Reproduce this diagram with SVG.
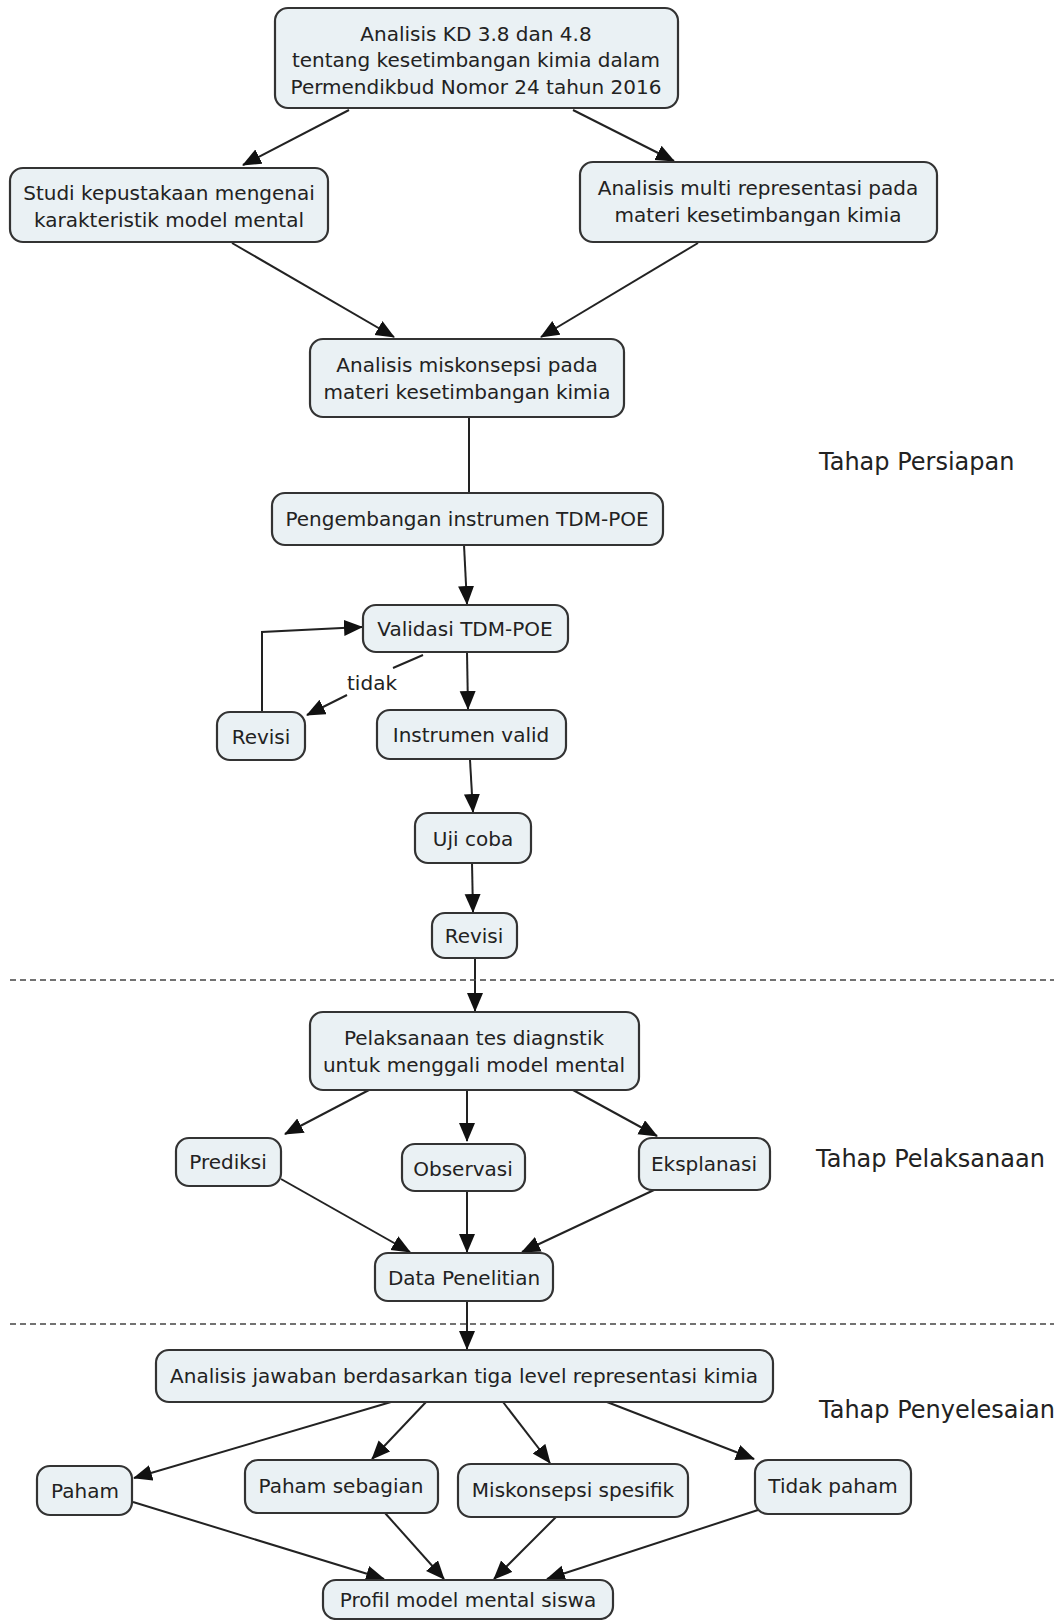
<svg xmlns="http://www.w3.org/2000/svg" width="1057" height="1620" viewBox="0 0 1057 1620">
<style>
.n rect{fill:#eaf1f4;stroke:#333;stroke-width:2.2}
text{font-family:"DejaVu Sans",Verdana,sans-serif;font-size:20px;fill:#222;text-anchor:middle}
.lab{font-size:24px;text-anchor:start}
.c line,.c polyline{stroke:#222;stroke-width:2;fill:none}
.a{marker-end:url(#ah)}
.d{stroke:#444;stroke-width:1.5;stroke-dasharray:6 4}
</style>
<defs>
<marker id="ah" markerUnits="userSpaceOnUse" markerWidth="20" markerHeight="18" refX="18" refY="8" orient="auto">
<path d="M0,0 L19,8 L0,16 z" fill="#111"/>
</marker>
</defs>
<rect width="1057" height="1620" fill="#fff"/>
<g class="c">
<line class="a" x1="349" y1="110" x2="243" y2="165"/>
<line class="a" x1="573" y1="110" x2="674" y2="161"/>
<line class="a" x1="232" y1="243" x2="394" y2="337"/>
<line class="a" x1="698" y1="243" x2="541" y2="337"/>
<line x1="469" y1="417" x2="469" y2="493"/>
<line class="a" x1="464" y1="545" x2="467" y2="604"/>
<polyline class="a" points="262,712 262,632 362,627"/>
<line x1="423" y1="655" x2="393" y2="668"/>
<line class="a" x1="347" y1="695" x2="307" y2="715"/>
<line class="a" x1="467" y1="652" x2="468" y2="709"/>
<line class="a" x1="470" y1="760" x2="473" y2="812"/>
<line class="a" x1="472" y1="863" x2="473" y2="912"/>
<line class="a" x1="475" y1="958" x2="475" y2="1011"/>
<line class="a" x1="369" y1="1090" x2="285" y2="1134"/>
<line class="a" x1="467" y1="1090" x2="467" y2="1141"/>
<line class="a" x1="573" y1="1090" x2="657" y2="1136"/>
<line class="a" x1="281" y1="1179" x2="410" y2="1252"/>
<line class="a" x1="467" y1="1191" x2="467" y2="1252"/>
<line class="a" x1="654" y1="1190" x2="522" y2="1252"/>
<line class="a" x1="467" y1="1301" x2="467" y2="1349"/>
<line class="a" x1="391" y1="1402" x2="134" y2="1478"/>
<line class="a" x1="426" y1="1402" x2="372" y2="1459"/>
<line class="a" x1="503" y1="1402" x2="550" y2="1463"/>
<line class="a" x1="607" y1="1402" x2="754" y2="1459"/>
<line class="a" x1="133" y1="1502" x2="384" y2="1579"/>
<line class="a" x1="385" y1="1513" x2="444" y2="1579"/>
<line class="a" x1="556" y1="1517" x2="494" y2="1579"/>
<line class="a" x1="758" y1="1510" x2="547" y2="1579"/>
</g>
<line class="d" x1="10" y1="980" x2="1054" y2="980"/>
<line class="d" x1="10" y1="1324" x2="1054" y2="1324"/>
<text x="372" y="690">tidak</text>
<g id="n1" class="n"><rect x="275" y="8" width="403" height="100" rx="13"/>
<text x="476" y="41">Analisis KD 3.8 dan 4.8</text>
<text x="476" y="67">tentang kesetimbangan kimia dalam</text>
<text x="476" y="94">Permendikbud Nomor 24 tahun 2016</text></g>
<g id="n2" class="n"><rect x="10" y="168" width="318" height="74" rx="13"/>
<text x="169" y="200">Studi kepustakaan mengenai</text>
<text x="169" y="227">karakteristik model mental</text></g>
<g id="n3" class="n"><rect x="580" y="162" width="357" height="80" rx="13"/>
<text x="758" y="195">Analisis multi representasi pada</text>
<text x="758" y="222">materi kesetimbangan kimia</text></g>
<g id="n4" class="n"><rect x="310" y="339" width="314" height="78" rx="13"/>
<text x="467" y="372">Analisis miskonsepsi pada</text>
<text x="467" y="399">materi kesetimbangan kimia</text></g>
<g id="n5" class="n"><rect x="272" y="493" width="391" height="52" rx="13"/>
<text x="467" y="526">Pengembangan instrumen TDM-POE</text></g>
<g id="n6" class="n"><rect x="363" y="605" width="205" height="47" rx="13"/>
<text x="465" y="636">Validasi TDM-POE</text></g>
<g id="n7" class="n"><rect x="217" y="712" width="88" height="48" rx="13"/>
<text x="261" y="744">Revisi</text></g>
<g id="n8" class="n"><rect x="377" y="710" width="189" height="49" rx="13"/>
<text x="471" y="742">Instrumen valid</text></g>
<g id="n9" class="n"><rect x="415" y="813" width="116" height="50" rx="13"/>
<text x="473" y="846">Uji coba</text></g>
<g id="n10" class="n"><rect x="432" y="913" width="85" height="45" rx="13"/>
<text x="474" y="943">Revisi</text></g>
<g id="n11" class="n"><rect x="310" y="1012" width="329" height="78" rx="13"/>
<text x="474" y="1045">Pelaksanaan tes diagnstik</text>
<text x="474" y="1072">untuk menggali model mental</text></g>
<g id="n12" class="n"><rect x="176" y="1138" width="105" height="48" rx="13"/>
<text x="228" y="1169">Prediksi</text></g>
<g id="n13" class="n"><rect x="402" y="1144" width="123" height="47" rx="13"/>
<text x="463" y="1176">Observasi</text></g>
<g id="n14" class="n"><rect x="639" y="1138" width="131" height="52" rx="13"/>
<text x="704" y="1171">Eksplanasi</text></g>
<g id="n15" class="n"><rect x="375" y="1253" width="178" height="48" rx="13"/>
<text x="464" y="1285">Data Penelitian</text></g>
<g id="n16" class="n"><rect x="156" y="1350" width="617" height="52" rx="13"/>
<text x="464" y="1383">Analisis jawaban berdasarkan tiga level representasi kimia</text></g>
<g id="n17" class="n"><rect x="37" y="1466" width="95" height="49" rx="13"/>
<text x="85" y="1498">Paham</text></g>
<g id="n18" class="n"><rect x="245" y="1460" width="193" height="53" rx="13"/>
<text x="341" y="1493">Paham sebagian</text></g>
<g id="n19" class="n"><rect x="458" y="1464" width="230" height="53" rx="13"/>
<text x="573" y="1497">Miskonsepsi spesifik</text></g>
<g id="n20" class="n"><rect x="755" y="1460" width="156" height="54" rx="13"/>
<text x="833" y="1493">Tidak paham</text></g>
<g id="n21" class="n"><rect x="323" y="1580" width="290" height="39" rx="13"/>
<text x="468" y="1607">Profil model mental siswa</text></g>
<text class="lab" x="819" y="470">Tahap Persiapan</text>
<text class="lab" x="816" y="1167">Tahap Pelaksanaan</text>
<text class="lab" x="819" y="1418">Tahap Penyelesaian</text>
</svg>
